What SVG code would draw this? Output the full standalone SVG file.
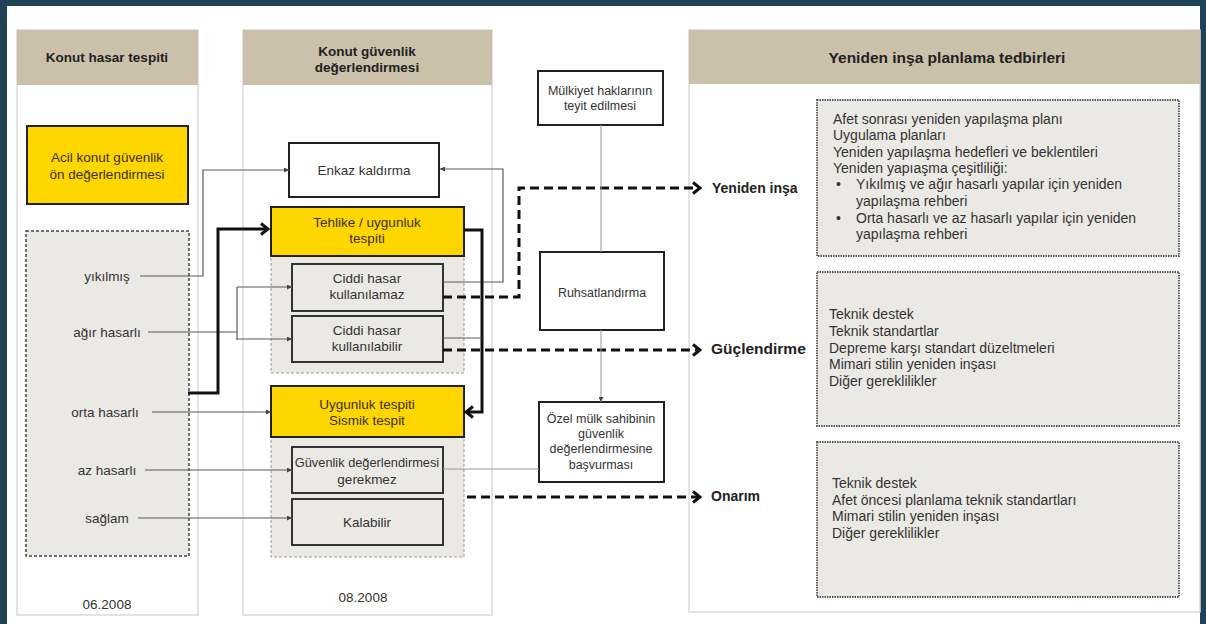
<svg xmlns="http://www.w3.org/2000/svg" width="1206" height="624" viewBox="0 0 1206 624">
<style>
.t{font-family:"Liberation Sans",Arial,sans-serif;fill:#333;font-size:13.5px}
.r{font-size:14px}
.s{font-size:12.5px}
.b{font-weight:bold;fill:#222}
.m{text-anchor:middle}
.y{fill:#3a3000}
.panel{fill:#fff;stroke:#dadada;stroke-width:1.5}
.hdr{fill:#cbc0aa}
.ybox{fill:#ffd600;stroke:#222;stroke-width:2}
.wbox{fill:#fff;stroke:#222;stroke-width:2}
.gbox{fill:#ebe9e4;stroke:#333;stroke-width:2}
.grp{fill:#ebe9e4;stroke:#999;stroke-width:1;stroke-dasharray:3 2}
.ldash{fill:#ebe9e4;stroke:#444;stroke-width:1.5;stroke-dasharray:3 2}
.rdash{fill:#ebe9e4;stroke:#555;stroke-width:1.8;stroke-dasharray:1.5 1}
.thin{fill:none;stroke:#5a5a5a;stroke-width:1.2}
.vthin{fill:none;stroke:#999;stroke-width:1}
.thick{fill:none;stroke:#111;stroke-width:3}
.dash{fill:none;stroke:#111;stroke-width:3;stroke-dasharray:9 5}
</style>
<defs>
<marker id="tri" viewBox="0 0 6 6" refX="6" refY="3" markerWidth="5" markerHeight="5" markerUnits="userSpaceOnUse" orient="auto">
<path d="M0,0 L6,3 L0,6 z" fill="#444"/>
</marker>
<marker id="chev" viewBox="0 0 12 14" refX="10" refY="7" markerWidth="12" markerHeight="14" markerUnits="userSpaceOnUse" orient="auto">
<path d="M3,1.5 L10,7 L3,12.5" fill="none" stroke="#111" stroke-width="3" stroke-dasharray="none"/>
</marker>
</defs>
<rect x="0" y="0" width="1206" height="624" fill="#1e4256"/>
<rect x="7" y="6" width="1193" height="618" fill="#fff"/>

<g id="panel-left">
<rect class="panel" x="17" y="30" width="181" height="585"/>
<rect class="hdr" x="17" y="30" width="181" height="55"/>
<text class="t b m" x="107" y="62">Konut hasar tespiti</text>
<text class="t m" x="107" y="609">06.2008</text>
</g>
<g id="panel-mid">
<rect class="panel" x="243" y="30" width="249" height="585"/>
<rect class="hdr" x="243" y="30" width="249" height="55"/>
<text class="t b m" x="367" y="56">Konut güvenlik</text>
<text class="t b m" x="367" y="72">değerlendirmesi</text>
<text class="t m" x="363" y="602">08.2008</text>
</g>
<g id="panel-right">
<rect class="panel" x="689" y="30" width="511" height="582"/>
<rect class="hdr" x="689" y="30" width="511" height="54"/>
<text class="t b m" x="947" y="63" style="font-size:15.5px">Yeniden inşa planlama tedbirleri</text>
</g>

<g id="acil">
<rect class="ybox" x="27" y="126" width="161" height="78"/>
<text class="t m y" x="107" y="162">Acil konut güvenlik</text>
<text class="t m y" x="107" y="179">ön değerlendirmesi</text>
</g>
<g id="damage">
<rect class="ldash" x="26" y="231" width="163" height="325"/>
<text class="t m" x="107" y="281">yıkılmış</text>
<text class="t m" x="107" y="337">ağır hasarlı</text>
<text class="t m" x="105" y="417">orta hasarlı</text>
<text class="t m" x="107" y="475">az hasarlı</text>
<text class="t m" x="107" y="523">sağlam</text>
</g>

<g id="grp1"><rect class="grp" x="271" y="256" width="193" height="117"/></g>
<g id="grp2"><rect class="grp" x="271" y="437" width="193" height="120"/></g>

<g id="enkaz">
<rect class="wbox" x="289" y="143" width="150" height="54"/>
<text class="t m" x="364" y="175">Enkaz kaldırma</text>
</g>
<g id="tehlike">
<rect class="ybox" x="271" y="207" width="193" height="49"/>
<text class="t m y" x="367" y="227">Tehlike / uygunluk</text>
<text class="t m y" x="367" y="243">tespiti</text>
</g>
<g id="kullanilamaz">
<rect class="gbox" x="292" y="264" width="151" height="47"/>
<text class="t m" x="367" y="283">Ciddi hasar</text>
<text class="t m" x="367" y="299">kullanılamaz</text>
</g>
<g id="kullanilabilir">
<rect class="gbox" x="292" y="316" width="151" height="46"/>
<text class="t m" x="367" y="335">Ciddi hasar</text>
<text class="t m" x="367" y="351">kullanılabilir</text>
</g>
<g id="uygunluk">
<rect class="ybox" x="271" y="386" width="193" height="51"/>
<text class="t m y" x="367" y="409">Uygunluk tespiti</text>
<text class="t m y" x="367" y="425">Sismik tespit</text>
</g>
<g id="gerekmez">
<rect class="gbox" x="292" y="447" width="151" height="46"/>
<text class="t m" x="367" y="467" style="font-size:12.8px">Güvenlik değerlendirmesi</text>
<text class="t m" x="367" y="484">gerekmez</text>
</g>
<g id="kalabilir">
<rect class="gbox" x="292" y="499" width="151" height="46"/>
<text class="t m" x="367" y="527">Kalabilir</text>
</g>

<g id="mulkiyet">
<rect class="wbox" x="538" y="71" width="125" height="54"/>
<text class="t s m" x="600" y="95">Mülkiyet haklarının</text>
<text class="t s m" x="600" y="110">teyit edilmesi</text>
</g>
<g id="ruhsat">
<rect class="wbox" x="540" y="252" width="124" height="78"/>
<text class="t s m" x="602" y="297">Ruhsatlandırma</text>
</g>
<g id="ozel">
<rect class="wbox" x="539" y="402" width="125" height="80"/>
<text class="t s m" x="601" y="423">Özel mülk sahibinin</text>
<text class="t s m" x="601" y="438">güvenlik</text>
<text class="t s m" x="601" y="453">değerlendirmesine</text>
<text class="t s m" x="601" y="469">başvurması</text>
</g>

<g id="labels">
<text class="t b" x="712" y="193" style="font-size:14px">Yeniden inşa</text>
<text class="t b" x="711" y="354" style="font-size:15.5px">Güçlendirme</text>
<text class="t b" x="711" y="501" style="font-size:14px">Onarım</text>
</g>

<g id="box-yeniden">
<rect class="rdash" x="817" y="100" width="362" height="156"/>
<text class="t r" x="833" y="124">Afet sonrası yeniden yapılaşma planı</text>
<text class="t r" x="833" y="140">Uygulama planları</text>
<text class="t r" x="833" y="157">Yeniden yapılaşma hedefleri ve beklentileri</text>
<text class="t r" x="833" y="173">Yeniden yapıaşma çeşitliliği:</text>
<text class="t r" x="836" y="189">•</text>
<text class="t r" x="856" y="189">Yıkılmış ve ağır hasarlı yapılar için yeniden</text>
<text class="t r" x="856" y="206">yapılaşma rehberi</text>
<text class="t r" x="836" y="223">•</text>
<text class="t r" x="856" y="223">Orta hasarlı ve az hasarlı yapılar için yeniden</text>
<text class="t r" x="856" y="239">yapılaşma rehberi</text>
</g>
<g id="box-guclendirme">
<rect class="rdash" x="817" y="272" width="362" height="154"/>
<text class="t r" x="829" y="319">Teknik destek</text>
<text class="t r" x="829" y="336">Teknik standartlar</text>
<text class="t r" x="829" y="353">Depreme karşı standart düzeltmeleri</text>
<text class="t r" x="829" y="369">Mimari stilin yeniden inşası</text>
<text class="t r" x="829" y="386">Diğer gereklilikler</text>
</g>
<g id="box-onarim">
<rect class="rdash" x="817" y="442" width="362" height="155"/>
<text class="t r" x="832" y="488">Teknik destek</text>
<text class="t r" x="832" y="505">Afet öncesi planlama teknik standartları</text>
<text class="t r" x="832" y="521">Mimari stilin yeniden inşası</text>
<text class="t r" x="832" y="538">Diğer gereklilikler</text>
</g>

<g id="connectors">
<path class="thin" d="M140,276 H203 V170 H289" marker-end="url(#tri)"/>
<path class="thin" d="M148,332 H237"/>
<path class="thin" d="M237,287 V340"/>
<path class="thin" d="M237,287 H292" marker-end="url(#tri)"/>
<path class="thin" d="M237,339 H292" marker-end="url(#tri)"/>
<path class="thin" d="M152,412 H271" marker-end="url(#tri)"/>
<path class="thin" d="M145,470 H292" marker-end="url(#tri)"/>
<path class="thin" d="M138,518 H292" marker-end="url(#tri)"/>
<path class="thick" d="M188,393 H218 V229 H268" marker-end="url(#chev)"/>
<path class="thin" d="M443,282 H503 V169 H440" marker-end="url(#tri)"/>
<path class="thick" d="M464,230 H482 V412 H466" marker-end="url(#chev)"/>
<path class="thin" d="M443,338 H482"/>
<path class="dash" d="M443,297 H519 V188 H700" marker-end="url(#chev)"/>
<path class="dash" d="M443,350 H700" marker-end="url(#chev)"/>
<path class="dash" d="M467,497 H700" marker-end="url(#chev)"/>
<path class="vthin" d="M443,469 H539"/>
<path class="vthin" d="M601,125 V252"/>
<path class="vthin" d="M601,330 V402" marker-end="url(#tri)"/>
</g>
</svg>
